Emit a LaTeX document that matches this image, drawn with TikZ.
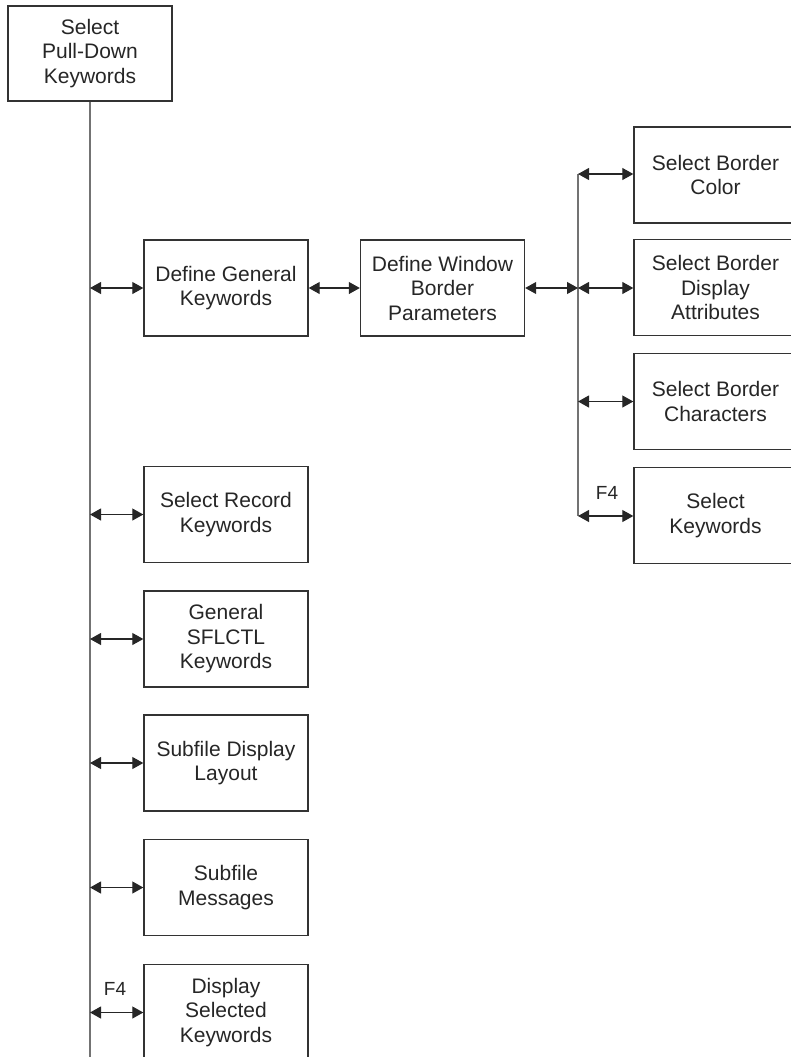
\documentclass[tikz,border=0pt]{standalone}
\usepackage{fontspec}
\setmainfont{Liberation Sans}
\usetikzlibrary{arrows.meta}
\begin{document}
\begin{tikzpicture}[x=1pt,y=-1pt,
  box/.style={draw=black!80, line width=1.4pt, fill=white, inner sep=0pt,
    minimum width=164pt, minimum height=96pt, align=center,
    font=\fontsize{21}{24.5}\selectfont, text=black!85},
  trunk/.style={draw=black!55, line width=1.5pt},
  link/.style={draw=black!85, line width=1.1pt,
    {Triangle[length=11pt,width=12pt]}-{Triangle[length=11pt,width=12pt]}},
  key/.style={font=\fontsize{19}{22}\selectfont, text=black!85}]
\useasboundingbox (0,0) rectangle (791,1057);
\clip (0,0) rectangle (791,1057);

% root of the menu tree
\node[box, minimum height=95pt] (root) at (90,53.5) {Select\\Pull-Down\\Keywords};
\coordinate (trunkend) at (90,1060);

% first-level choices
\node[box] (general)  at (226,288)   {Define General\\Keywords};
\node[box] (record)   at (226,514.5) {Select Record\\Keywords};
\node[box] (sflctl)   at (226,639)   {General\\SFLCTL\\Keywords};
\node[box] (layout)   at (226,763)   {Subfile Display\\Layout};
\node[box] (messages) at (226,887.5) {Subfile\\Messages};
\node[box] (selected) at (226,1012.5){Display\\Selected\\Keywords};

% window border branch
\node[box] (border) at (442.5,288) {Define Window\\Border\\Parameters};
\node[box, minimum width=163pt] (color) at (715.5,175)   {Select Border\\Color};
\node[box, minimum width=163pt] (attr)  at (715.5,287.5) {Select Border\\Display\\Attributes};
\node[box, minimum width=163pt] (chars) at (715.5,401.5) {Select Border\\Characters};
\node[box, minimum width=163pt] (keys)  at (715.5,515.5) {Select\\Keywords};

% branch trunk on the right
\coordinate (bt) at (578,174);
\coordinate (bb) at (578,516);
\coordinate (bj) at (578,288);

% trunks
\draw[trunk] (root.south) -- (trunkend);
\draw[trunk] (bt) -- (bb);

% connectors from the main trunk
\draw[link] (root.south |- general.west)  -- (general.west);
\draw[link] (root.south |- record.west)   -- (record.west);
\draw[link] (root.south |- sflctl.west)   -- (sflctl.west);
\draw[link] (root.south |- layout.west)   -- (layout.west);
\draw[link] (root.south |- messages.west) -- (messages.west);
\draw[link] (root.south |- selected.west) -- (selected.west);

% connectors of the border branch
\draw[link] (general.east) -- (border.west);
\draw[link] (border.east) -- (bj);
\draw[link] (bt) -- (bt -| color.west);
\draw[link] (bj) -- (bj -| attr.west);
\draw[link] (bt |- chars.west) -- (chars.west);
\draw[link] (bb) -- (bb -| keys.west);

% function key labels
\node[key] (f4a) at (115,989) {F4};
\node[key] (f4b) at (607,493) {F4};
\end{tikzpicture}
\end{document}
